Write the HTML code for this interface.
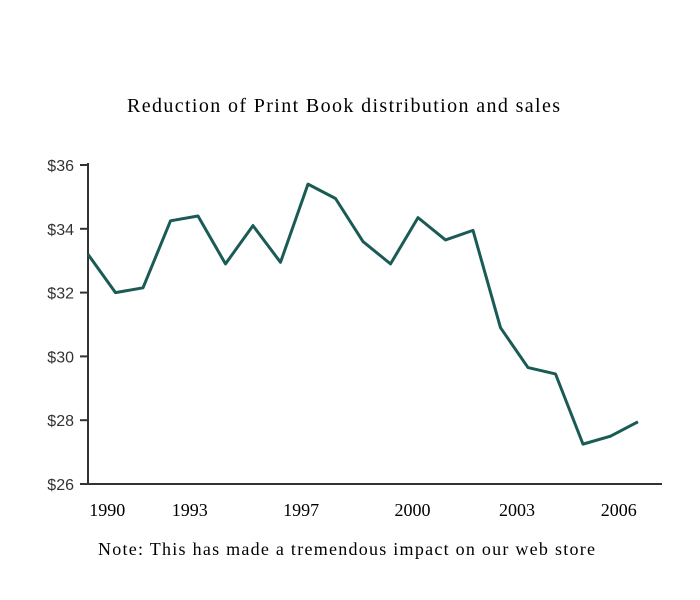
<!DOCTYPE html>
<html><head><meta charset="utf-8"><style>
body{margin:0;background:#fff;width:700px;height:600px;overflow:hidden}
svg{display:block}
</style></head><body>
<svg id="c" width="700" height="600">
<text x="127" y="112" textLength="433" lengthAdjust="spacing" font-family="Liberation Serif, serif" font-size="20" fill="#000">Reduction of Print Book distribution and sales</text>
<text x="98" y="555" textLength="497" lengthAdjust="spacing" font-family="Liberation Serif, serif" font-size="18" fill="#000">Note: This has made a tremendous impact on our web store</text>
</svg>
<script>
const values=[33.2,32.0,32.15,34.25,34.4,32.9,34.1,32.95,35.4,34.95,33.6,32.9,34.35,33.65,33.95,30.9,29.65,29.45,27.25,27.5,27.95];
const yTicks=[26,28,30,32,34,36];
const yTickLabels=["$26","$28","$30","$32","$34","$36"];
const xTickLabels=["1990","1993","1997","2000","2003","2006"];
const xTickIndex=[0.7,3.7,7.75,11.8,15.6,19.3];
const svg=document.getElementById('c');
const NS='http://www.w3.org/2000/svg';
const x0=88,step=27.5,yTop=165,yBot=484,vMin=26,vMax=36;
const X=i=>x0+i*step;
const Y=v=>yBot-(v-vMin)/(vMax-vMin)*(yBot-yTop);
function mk(t,a){const e=document.createElementNS(NS,t);for(const k in a)e.setAttribute(k,a[k]);svg.appendChild(e);return e;}
let e=mk('line',{x1:x0,y1:yTop-2,x2:x0,y2:yBot,stroke:'#333','stroke-width':2});


e=mk('line',{x1:x0,y1:yBot,x2:662,y2:yBot,stroke:'#333','stroke-width':2});


yTicks.forEach((v,i)=>{
 const t=mk('line',{x1:x0-8,y1:Y(v),x2:x0,y2:Y(v),stroke:'#333','stroke-width':2});
 
 
 const l=mk('text',{x:x0-14,y:Y(v)+6,'text-anchor':'end','font-family':'Liberation Sans, sans-serif','font-size':'16',fill:'#333'});
 l.textContent=yTickLabels[i];
 
 
});
xTickLabels.forEach((s,i)=>{
 const l=mk('text',{x:X(xTickIndex[i]),y:516,'text-anchor':'middle','font-family':'Liberation Serif, serif','font-size':'18',fill:'#000'});
 l.textContent=s;
 
 
});
const p=mk('polyline',{points:values.map((v,i)=>X(i)+','+Y(v)).join(' '),fill:'none',stroke:'#1a5c55','stroke-width':3,'stroke-linejoin':'round'});


</script>
</body></html>
